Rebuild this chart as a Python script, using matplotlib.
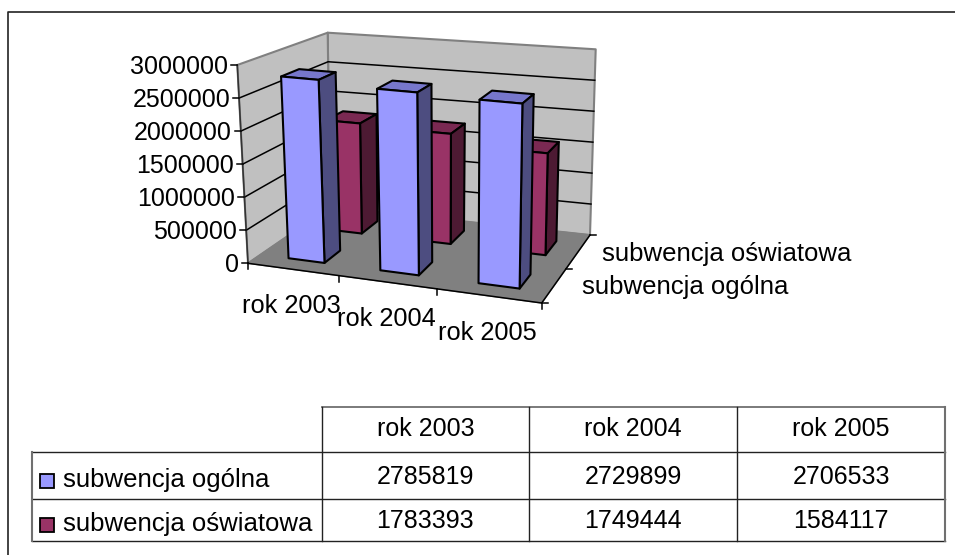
import numpy as np
from matplotlib import pyplot as plt

plt.rcParams['font.family'] = ['Liberation Sans', 'DejaVu Sans']

years = ['rok 2003', 'rok 2004', 'rok 2005']
series_names = ['subwencja ogólna', 'subwencja oświatowa']
ogolna = [2785819, 2729899, 2706533]
oswiatowa = [1783393, 1749444, 1584117]
yticks = [0, 500000, 1000000, 1500000, 2000000, 2500000, 3000000]
ymax = 3000000

# corners of the box on the picture, indexed [category][series][value]
corners = np.array([[[[248, 263.3], [237.3, 65]], [[330, 207], [327.7, 32.7]]],
                    [[[541.7, 303], [546, 93]], [[590, 235], [595.7, 49.3]]]])


def proj(u, v, w):
    # categories get wider to the right (perspective)
    u = u * (0.9 + 0.1 * u)
    p = 0
    for i, a in enumerate([1 - u, u]):
        for j, b in enumerate([1 - v, v]):
            for k, c in enumerate([1 - w, w]):
                p = p + a * b * c * corners[i, j, k]
    return p[0], p[1]


def face(ax, pts, fc, ec='black', lw=1.5, z=2):
    xy = [proj(*p) for p in pts]
    ax.fill(*zip(*xy), facecolor=fc, edgecolor=ec, linewidth=lw, zorder=z, joinstyle='round')


def bar(ax, cat, ser, val, cols, z):
    cw = 1 / 3 * 0.4
    dw = 0.5 * 0.42
    u0 = (cat + 0.5) / 3 - cw / 2 + 0.006
    u1 = u0 + cw
    v0 = (ser + 0.5) / 2 - dw / 2 + 0.01
    v1 = v0 + dw
    w = val / ymax
    face(ax, [(u0, v0, w), (u1, v0, w), (u1, v1, w), (u0, v1, w)], cols[1], z=z)
    face(ax, [(u1, v0, 0), (u1, v1, 0), (u1, v1, w), (u1, v0, w)], cols[2], z=z)
    face(ax, [(u0, v0, 0), (u1, v0, 0), (u1, v0, w), (u0, v0, w)], cols[0], z=z)


fig = plt.figure(figsize=(9.55, 5.55), dpi=100)
ax = fig.add_axes([0, 0, 1, 1])
ax.set_xlim(0, 955)
ax.set_ylim(555, 0)
ax.axis('off')

# outer frame runs off the right and bottom of the picture
ax.plot([955, 7.5, 7.5], [12, 12, 555], color='#222222', lw=1.2)

# walls and floor
face(ax, [(0, 1, 0), (1, 1, 0), (1, 1, 1), (0, 1, 1)], '#c0c0c0', ec='#808080', lw=1.5, z=1)
face(ax, [(0, 0, 0), (0, 1, 0), (0, 1, 1), (0, 0, 1)], '#c0c0c0', ec='#808080', lw=1.5, z=1)
face(ax, [(0, 0, 0), (1, 0, 0), (1, 1, 0), (0, 1, 0)], '#808080', ec='#808080', lw=1, z=1)

for t in yticks[1:-1]:
    w = t / ymax
    pts = [proj(0, 0, w), proj(0, 1, w), proj(1, 1, w)]
    ax.plot(*zip(*pts), color='black', lw=1.1, zorder=1.5)

# axes lines
ax.plot(*zip(proj(0, 0, 0), proj(0, 0, 1)), color='#333333', lw=1.1, zorder=1.6)
ax.plot(*zip(proj(0, 0, 0), proj(1, 0, 0), proj(1, 1, 0)), color='black', lw=1.1, zorder=1.6)

for t in yticks:
    x, y = proj(0, 0, t / ymax)
    ax.plot([x - 6, x], [y, y], color='black', lw=1.1)
    ax.text(x - 9, y + 1.5, str(t), ha='right', va='center', fontsize=18)

for i in range(4):
    x, y = proj(i / 3, 0, 0)
    ax.plot([x, x], [y, y + 6], color='black', lw=1.1)
for i, yr in enumerate(years):
    x, y = proj((i + 1) / 3, 0, 0)
    ax.text(x + 1 - 3 * i, y + 30.5, yr, ha='right', va='center', fontsize=18.3)

for i in range(3):
    x, y = proj(1, i / 2, 0)
    ax.plot([x, x + 6], [y, y], color='black', lw=1.1)
for i, nm in enumerate(series_names):
    x, y = proj(1, (i + 0.5) / 2, 0)
    ax.text(x + 28 - i * 4, y + 1 + i, nm, ha='left', va='center', fontsize=18.5)

blue = ['#9999ff', '#7777cc', '#4d4d80']
red = ['#993366', '#7a2952', '#4d1a33']
for i in range(3):
    bar(ax, i, 1, oswiatowa[i], red, 3 + i)
for i in range(3):
    bar(ax, i, 0, ogolna[i], blue, 3.5 + i)

# data table
xs = [32, 321.7, 529, 737.3, 945]
ys = [406.7, 452.3, 499, 541]
grey = '#707070'
for y in ys[1:]:
    ax.plot([xs[0], xs[-1]], [y, y], color='#222222', lw=1)
ax.plot([xs[1], xs[-1]], [ys[0], ys[0]], color=grey, lw=1.3)
for x in xs[1:-1]:
    ax.plot([x, x], [ys[0], ys[-1]], color='#222222', lw=1)
ax.plot([xs[0], xs[0]], [ys[1], ys[-1]], color=grey, lw=1.5)
ax.plot([xs[-1], xs[-1]], [ys[0], ys[-1]], color=grey, lw=1.5)

for j, yr in enumerate(years):
    cx = (xs[j + 1] + xs[j + 2]) / 2
    ax.text(cx, 429, yr, ha='center', va='center', fontsize=18)
    ax.text(cx, 477, str(ogolna[j]), ha='center', va='center', fontsize=18)
    ax.text(cx, 521, str(oswiatowa[j]), ha='center', va='center', fontsize=18)

for nm, col, ky in zip(series_names, [blue[0], red[0]], [480.5, 524.5]):
    ax.add_patch(plt.Rectangle((39.5, ky - 7), 14, 14, facecolor=col, edgecolor='black', lw=1.3))
    ax.text(63, ky, nm, ha='left', va='center', fontsize=18.5)

fig.savefig('out.png', dpi=100)
